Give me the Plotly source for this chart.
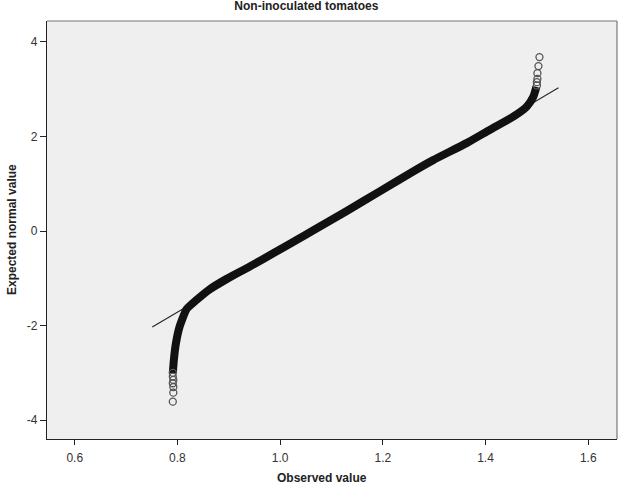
import plotly.graph_objects as go

band_observed = [0.791, 0.793, 0.797, 0.804, 0.818, 0.837, 0.863, 0.896, 0.941, 0.990,
                 1.032, 1.064, 1.129, 1.194, 1.259, 1.298, 1.363, 1.408, 1.454, 1.480,
                 1.493, 1.499]
band_expected = [-3.01, -2.73, -2.38, -2.03, -1.65, -1.46, -1.23, -1.01, -0.75, -0.45,
                 -0.19, 0.01, 0.42, 0.84, 1.26, 1.50, 1.86, 2.14, 2.42, 2.63,
                 2.84, 3.05]

tail_observed = [0.791, 0.791, 0.792, 0.791, 0.792, 0.792, 0.791,
                 1.500, 1.500, 1.501, 1.501, 1.503, 1.505]
tail_expected = [-3.00, -3.08, -3.15, -3.22, -3.30, -3.42, -3.61,
                 3.08, 3.15, 3.22, 3.34, 3.49, 3.68]

# Reference (normal) line end points
ref_observed = [0.751, 1.542]
ref_expected = [-2.03, 3.03]

x_ticks = [0.6, 0.8, 1.0, 1.2, 1.4, 1.6]
x_tick_labels = ["0.6", "0.8", "1.0", "1.2", "1.4", "1.6"]
y_ticks = [-4, -2, 0, 2, 4]
y_tick_labels = ["-4", "-2", "0", "2", "4"]

FONT = "Liberation Sans, Arial, sans-serif"

fig = go.Figure()
fig.add_trace(go.Scatter(x=ref_observed, y=ref_expected, mode="lines",
                         line=dict(color="#222222", width=1.1), hoverinfo="skip"))
fig.add_trace(go.Scatter(x=band_observed, y=band_expected, mode="lines",
                         line=dict(color="#111111", width=8, shape="spline", smoothing=0.5)))
fig.add_trace(go.Scatter(x=tail_observed, y=tail_expected, mode="markers",
                         marker=dict(symbol="circle-open", size=7, color="#555555",
                                     line=dict(width=1.3, color="#555555"))))

fig.update_layout(
    width=629, height=490,
    margin=dict(l=47, r=12, t=21, b=51),
    paper_bgcolor="white", plot_bgcolor="#efefef",
    showlegend=False,
    font=dict(family=FONT, size=12, color="#333333"),
    title=dict(text="<b>Non-inoculated tomatoes</b>", x=0.487, xref="container",
               xanchor="center", y=0.988, yref="container", yanchor="middle",
               font=dict(family=FONT, size=12, color="#222222")),
    shapes=[
        dict(type="line", xref="paper", yref="paper", x0=0, x1=1, y0=1, y1=1,
             line=dict(color="#777777", width=1.2)),
        dict(type="line", xref="paper", yref="paper", x0=1, x1=1, y0=0, y1=1,
             line=dict(color="#777777", width=1.2)),
    ],
    annotations=[
        dict(text="<b>Observed value</b>", xref="paper", yref="paper", x=0.482, y=0,
             yshift=-39, xanchor="center", yanchor="middle", showarrow=False,
             font=dict(family=FONT, size=12, color="#222222")),
        dict(text="<b>Expected normal value</b>", xref="paper", yref="paper", x=0, y=0.5,
             xshift=-35, xanchor="center", yanchor="middle", textangle=-90,
             showarrow=False, font=dict(family=FONT, size=12, color="#222222")),
    ],
)
fig.update_xaxes(range=[0.546, 1.656], tickvals=x_ticks, ticktext=x_tick_labels,
                 showgrid=False, zeroline=False, showline=True, linecolor="#222222",
                 linewidth=1.2, ticks="outside", ticklen=5, tickcolor="#222222",
                 ticklabelstandoff=2, automargin=False,
                 tickfont=dict(size=12, color="#333333"))
fig.update_yaxes(range=[-4.40, 4.444], tickvals=y_ticks, ticktext=y_tick_labels,
                 showgrid=False, zeroline=False, showline=True, linecolor="#222222",
                 linewidth=1.2, ticks="outside", ticklen=6, tickcolor="#222222",
                 automargin=False,
                 tickfont=dict(size=12, color="#333333"))

fig.write_html("out.html")
